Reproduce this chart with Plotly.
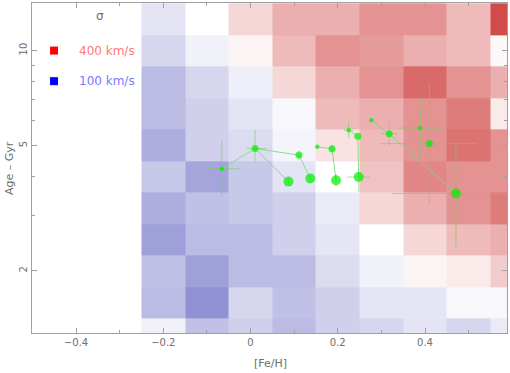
import numpy as np
import plotly.graph_objects as go

# ---------------- data ----------------
# heatmap grid: [Fe/H] bin edges and log10(age) bin edges
feh_edges = [-0.25, -0.15, -0.05, 0.05, 0.15, 0.25, 0.35, 0.45, 0.55, 0.65]
logage_edges = [0.05, 0.15, 0.25, 0.35, 0.45, 0.55, 0.65, 0.75, 0.85, 0.95, 1.05, 1.15]

# velocity dispersion (km/s) per cell, rows listed from oldest (top) to youngest (bottom)
sigma_rows_top_down = [
    [220, 250, 280, 310, 310, 332, 332, 302, 385],
    [205, 235, 258, 302, 332, 325, 310, 302, 255],
    [175, 205, 232, 280, 310, 332, 362, 332, 310],
    [175, 198, 220, 242, 302, 310, 332, 348, 265],
    [160, 198, 212, 238, 272, 302, 332, 355, 332],
    [190, 152, 190, 220, 250, 295, 340, 332, 332],
    [160, 182, 190, 198, 228, 280, 310, 332, 348],
    [145, 175, 175, 198, 222, 250, 280, 302, 310],
    [182, 145, 175, 175, 212, 235, 258, 265, 288],
    [175, 130, 205, 182, 198, 222, 222, 242, 242],
    [235, 182, 198, 175, 198, 205, 220, 205, 228],
]

# green points: [Fe/H], age (Gyr), size class, and asymmetric errors
pt_feh = [-0.066, 0.0105, 0.111, 0.087, 0.137, 0.153, 0.187, 0.196,
          0.225, 0.246, 0.248, 0.277, 0.318, 0.389, 0.410, 0.471]
pt_age = [4.22, 4.89, 4.66, 3.84, 3.93, 4.95, 4.88, 3.88,
          5.59, 5.35, 3.97, 6.01, 5.45, 5.68, 5.07, 3.52]
pt_class = ["s", "m", "m", "b", "b", "s", "m", "b",
            "s", "m", "b", "s", "m", "s", "m", "b"]
feh_err_plus = [0.040, 0.026, 0.006, 0.0, 0.0, 0.0, 0.0, 0.0,
                0.011, 0.0, 0.026, 0.0, 0.019, 0.052, 0.110, 0.13]
feh_err_minus = [0.038, 0.019, 0.006, 0.0, 0.0, 0.0, 0.0, 0.0,
                 0.011, 0.0, 0.026, 0.0, 0.019, 0.052, 0.111, 0.146]
age_err_plus = [0.95, 0.72, 0.15, 0.12, 0.10, 0.0, 0.14, 0.17,
                0.36, 0.0, 0.13, 0.0, 0.50, 1.40, 2.83, 1.69]
age_err_minus = [0.76, 0.48, 0.16, 0.12, 0.10, 0.0, 0.14, 0.17,
                 0.32, 0.0, 0.40, 0.0, 0.47, 1.12, 1.81, 1.14]

# connecting line sequences (indices into the point arrays)
sequences = [[0, 1, 3], [1, 2, 4], [5, 6, 7], [8, 9, 10], [11, 12, 15]]

legend_labels = ["400 km/s", "100 km/s"]
legend_sigma = [400, 100]
legend_age = [10.0, 8.0]

# ---------------- figure ----------------
age_edges = [10 ** v for v in logage_edges]
z = sigma_rows_top_down[::-1]

fig = go.Figure()
fig.add_trace(go.Heatmap(
    x=feh_edges, y=age_edges, z=z,
    zmin=100, zmax=400,
    colorscale=[[0, "rgb(118,118,201)"], [0.5, "rgb(255,255,255)"], [1, "rgb(205,55,55)"]],
    showscale=False, hoverinfo="skip"))

line_col = "rgba(120,220,120,0.85)"
for seq in sequences:
    fig.add_trace(go.Scatter(
        x=[pt_feh[i] for i in seq], y=[pt_age[i] for i in seq],
        mode="lines", line=dict(color=line_col, width=1), hoverinfo="skip"))

size_map = {"s": 4.5, "m": 7, "b": 10}
err_col = "rgba(110,210,90,0.6)"
fig.add_trace(go.Scatter(
    x=pt_feh, y=pt_age, mode="markers",
    marker=dict(color="rgb(0,240,0)", size=[size_map[c] for c in pt_class], line=dict(width=0)),
    error_x=dict(type="data", symmetric=False, array=feh_err_plus, arrayminus=feh_err_minus,
                 color=err_col, thickness=1, width=0),
    error_y=dict(type="data", symmetric=False, array=age_err_plus, arrayminus=age_err_minus,
                 color=err_col, thickness=1, width=0)))

# legend squares
fig.add_trace(go.Scatter(
    x=[-0.4505, -0.4505], y=legend_age, mode="markers",
    marker=dict(symbol="square", size=8, color=["rgb(255,0,0)", "rgb(0,0,255)"], line=dict(width=0)),
    hoverinfo="skip"))

text_cols = ["rgb(255,120,120)", "rgb(120,120,255)"]
for lab, a, c in zip(legend_labels, legend_age, text_cols):
    fig.add_annotation(x=-0.33, y=np.log10(a), xref="x", yref="y", text=lab,
                       showarrow=False, font=dict(family="DejaVu Sans", size=12, color=c))
fig.add_annotation(x=-0.345, y=np.log10(12.9), xref="x", yref="y", text="σ",
                   showarrow=False, font=dict(family="DejaVu Sans", size=12, color="rgb(110,110,110)"))

# axis titles
fig.add_annotation(x=0, y=0.5, xref="paper", yref="paper", xanchor="center", yanchor="middle",
                   xshift=-23, text="Age – Gyr", textangle=-90, showarrow=False,
                   font=dict(family="DejaVu Sans", size=11, color="rgb(110,110,110)"))
fig.add_annotation(x=0.045, y=0, xref="x", yref="paper", xanchor="center", yanchor="middle",
                   yshift=-30, text="[Fe/H]", showarrow=False,
                   font=dict(family="DejaVu Sans", size=11, color="rgb(110,110,110)"))

axcol = "rgb(160,160,160)"
fig.update_layout(
    width=510, height=373,
    margin=dict(l=32, r=3, t=3, b=40, autoexpand=False),
    paper_bgcolor="white", plot_bgcolor="white",
    showlegend=False,
    font=dict(family="DejaVu Sans", size=10, color="rgb(110,110,110)"),
    xaxis=dict(range=[-0.501, 0.588], showgrid=False, zeroline=False, automargin=False,
               showline=True, linecolor=axcol, linewidth=1, mirror="ticks",
               ticks="inside", ticklen=5, tickcolor=axcol,
               tickmode="array", tickvals=[-0.4, -0.2, 0, 0.2, 0.4],
               ticktext=["−0.4", "−0.2", "0", "0.2", "0.4"],
               minor=dict(tickmode="array", tickvals=[-0.5, -0.3, -0.1, 0.1, 0.3, 0.5],
                          ticks="inside", ticklen=3, tickcolor=axcol, showgrid=False)),
    yaxis=dict(type="log", range=[0.104, 1.151], showgrid=False, zeroline=False, automargin=False,
               showline=True, linecolor=axcol, linewidth=1, mirror="ticks",
               ticks="inside", ticklen=5, tickcolor=axcol,
               tickmode="array", tickvals=[2, 5, 10], ticktext=["2", "5", "10"],
               tickangle=-90,
               minor=dict(tickmode="array", tickvals=[3, 4, 6, 7, 8, 9],
                          ticks="inside", ticklen=3, tickcolor=axcol, showgrid=False)),
)

fig.write_html("out.html", config={"displayModeBar": False},
               post_script="document.body.style.margin='0';document.body.style.overflow='hidden';")
